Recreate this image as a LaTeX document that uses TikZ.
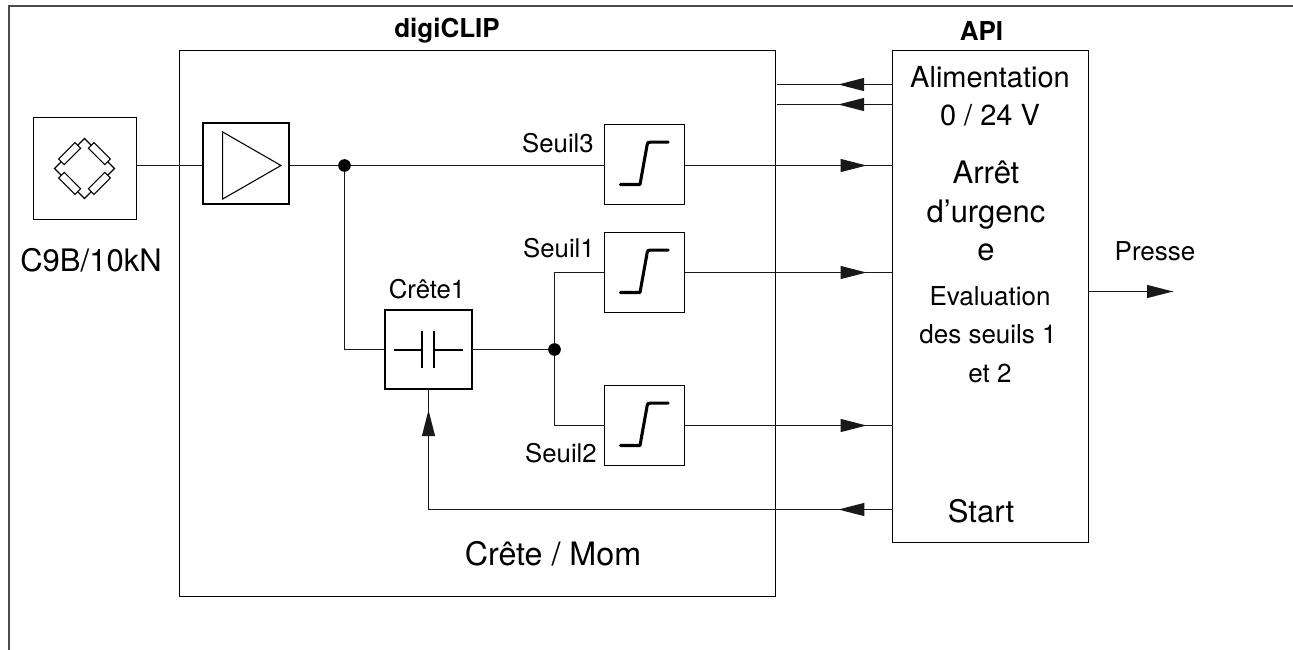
\documentclass[tikz,border=0pt]{standalone}
\usepackage{fontspec}
\setmainfont{TeX Gyre Heros}
\usetikzlibrary{arrows.meta,decorations.markings}
\tikzset{
  x=0.75pt,y=-0.75pt,
  line/.style={line width=0.85pt,draw=black!90},
  box/.style n args={2}{rectangle,draw=black,line width=0.95pt,inner sep=0pt,outer sep=0pt,minimum width=#1*0.75pt,minimum height=#2*0.75pt},
  emptybox/.style n args={2}{rectangle,inner sep=0pt,outer sep=0pt,minimum width=#1*0.75pt,minimum height=#2*0.75pt},
  heavyline/.style={line width=2.2pt,draw=black,line join=miter},
  frameline/.style={line width=1.1pt,draw=black!70},
  dot/.style={circle,fill=black,inner sep=0pt,outer sep=0pt,minimum size=9.5pt},
  headat/.style={postaction={decorate},decoration={markings,mark=at position #1 with {\arrow[line width=0pt]{Triangle[length=19.5pt,width=10pt]}}}},
  txt/.style={anchor=base,inner sep=0pt,outer sep=0pt,font=\fontsize{#1}{#1}\selectfont},
  btxt/.style={anchor=base,inner sep=0pt,outer sep=0pt,font=\fontsize{#1}{#1}\selectfont\bfseries},
  stepsym/.pic={\draw[line width=2.3pt,line cap=round,line join=round,black] (-24,20) -- (-4.5,20) -- (2.7,-20) .. controls (3.2,-22.3) and (3.2,-22.3) .. (6,-22.3) -- (23.7,-22.3);},
}
\begin{document}
\begin{tikzpicture}
\useasboundingbox (0,0) rectangle (1293,650);
% outer frame
\coordinate (fa) at (9,650);
\coordinate (fb) at (9,6);
\coordinate (fc) at (1293,6);
\draw[frameline] (fa) -- (fb) -- (fc);
% main boxes
\node[box={596}{546}] (clip) at (477.5,323.5) {};
\node[box={196}{492}] (api) at (990.5,296.5) {};
\node[box={103}{102}] (sensor) at (85,168.5) {};
\node[emptybox={86}{81}] (amp) at (246,163.5) {};
\draw[heavyline] (amp.north west) rectangle (amp.south east);
\node[box={80}{80}] (s3) at (644.5,164.5) {};
\node[box={80}{80}] (s1) at (644.5,272.5) {};
\node[box={80}{80}] (s2) at (644.5,425.5) {};
\node[emptybox={87}{79}] (peak) at (428.5,349.5) {};
\draw[heavyline] (peak.north west) rectangle (peak.south east);
% junctions
\node[dot] (j1) at (344.5,165.5) {};
\node[dot] (j2) at (554.5,349.5) {};
% free end points of the connectors
\coordinate (p3) at (684.5,165.5);
\coordinate (a3) at (892.5,165.5);
\coordinate (p1) at (684.5,272.5);
\coordinate (a1) at (892.5,272.5);
\coordinate (p2) at (684.5,425.5);
\coordinate (a2) at (892.5,425.5);
\coordinate (st) at (892.5,509.5);
\coordinate (sup1) at (892.5,84.5);
\coordinate (sup1e) at (777,84.5);
\coordinate (sup2) at (892.5,104.5);
\coordinate (sup2e) at (777,104.5);
\coordinate (out) at (1173,291.5);
% connectors
\draw[line] (sensor.east |- j1) -- (amp.west |- j1);
\draw[line] (amp.east |- j1) -- (j1) -- (s3.west |- j1);
\draw[line] (j1) |- (peak.west);
\draw[line] (peak.east) -- (j2);
\draw[line] (j2) |- (s1.west |- a1);
\draw[line] (j2) |- (s2.west |- a2);
\draw[line,headat=0.875] (p3) -- (a3);
\draw[line,headat=0.875] (p1) -- (a1);
\draw[line,headat=0.875] (p2) -- (a2);
\draw[line,headat=0.47] (sup1) -- (sup1e);
\draw[line,headat=0.47] (sup2) -- (sup2e);
\draw[line,headat=0.1166] (st) -- (st -| peak.south);
\draw[line,headat=0.825] (st -| peak.south) -- (peak.south);
\draw[line,headat=1] (api.east |- out) -- (out);
% bridge symbol
\draw[line width=0.8pt,black] (54.5,168.5) -- (84.5,138.5) -- (114.5,168.5) -- (84.5,198.5) -- cycle;
\foreach \a in {45,135,225,315}
  \draw[line width=0.8pt,black,fill=white,shift={(84.5,168.5)},rotate=\a] (-11.5,17) rectangle (11.5,25);
% amplifier symbol
\draw[line width=0.8pt,black,line join=miter] (222.7,132) -- (281,165.5) -- (222.7,199) -- cycle;
% capacitor symbol
\draw[line width=1.5pt,black] (393.5,349.5) -- (422,349.5) (422,331) -- (422,368);
\draw[line width=1.5pt,black] (434,349.5) -- (463,349.5) (434,331) -- (434,368);
% threshold symbols
\pic at (s3) {stepsym};
\pic at (s1) {stepsym};
\pic at (s2) {stepsym};
% texts
\node[btxt=19.5] (t1) at (447,37) {digiCLIP};
\node[btxt=19.5] (t2) at (981.5,40) {API};
\node[txt=23.25] (t3) at (91,271.7) {C9B/10kN};
\node[txt=19.3] (t4) at (558,152) {Seuil3};
\node[txt=19.3] (t5) at (559,257) {Seuil1};
\node[txt=19.3] (t6) at (561,462) {Seuil2};
\node[txt=19.3] (t7) at (427,298) {Crête1};
\node[txt=24.2] (t8) at (553,565) {Crête / Mom};
\node[txt=21.75] (t9) at (990,87) {Alimentation};
\node[txt=21.75] (t10) at (990,125) {0 / 24 V};
\node[txt=23.25] (t11) at (986,183) {Arrêt};
\node[txt=23.25] (t12) at (986,222) {d’urgenc};
\node[txt=23.25] (t13) at (986,260) {e};
\node[txt=19.5] (t14) at (990,305) {Evaluation};
\node[txt=19.5] (t15) at (988,343) {des seuils 1};
\node[txt=19.5] (t16) at (990,382) {et 2};
\node[txt=23.25] (t17) at (981,522.7) {Start};
\node[txt=19.5] (t18) at (1155,260) {Presse};
\end{tikzpicture}
\end{document}
